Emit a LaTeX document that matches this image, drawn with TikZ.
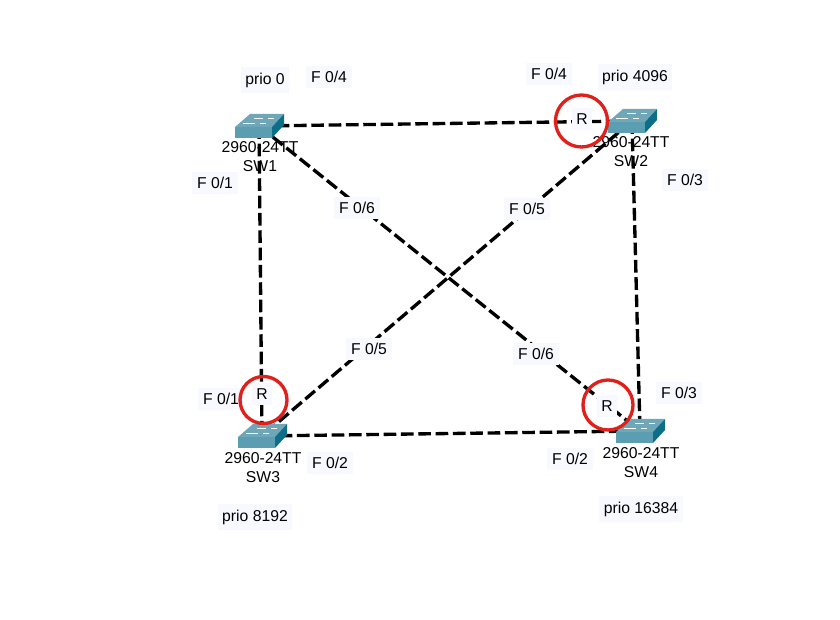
\documentclass[tikz,border=0pt]{standalone}
\usepackage{fontspec}
\setmainfont{Liberation Sans}
\definecolor{swtop}{HTML}{6FA6B8}
\definecolor{swfront}{HTML}{5B9DB1}
\definecolor{swside}{HTML}{0F6E87}
\definecolor{labelbg}{HTML}{F8F8FF}
\definecolor{rootred}{HTML}{E0201B}
\tikzset{
  switchicon/.pic={
    \fill[swtop] (-24,1) -- (-9,-12) -- (25,-12) -- (13,1) -- cycle;
    \fill[swfront] (-24,1) rectangle (13,12);
    \fill[swside] (13,1) -- (25,-12) -- (25,-1) -- (13,12) -- cycle;
    \draw[white,line width=0.6pt] (-5,-8) -- (4,-8) (9,-8) -- (15,-8);
    \draw[white,line width=0.6pt] (-16,-3) -- (-4,-3) (1,-3) -- (7,-3);
  }
}
\begin{document}
\begin{tikzpicture}[x=0.75pt,y=-0.75pt,font=\fontsize{11.8}{14}\selectfont,
  swpoint/.style={inner sep=0pt,minimum size=0pt},
  link/.style={line width=2.5pt,dash pattern=on 9.5pt off 3.5pt},
  swname/.style={align=center,inner sep=0pt},
  portlabel/.style={fill=labelbg,inner xsep=3.5pt,inner ysep=4pt},
  rootring/.style={circle,draw=rootred,line width=2.5pt,inner sep=0pt}]
\useasboundingbox (0,0) rectangle (840,620);
\node[swpoint] (sw1) at (259,126) {};
\node[swpoint] (sw2) at (632,121) {};
\node[swpoint] (sw3) at (262,436) {};
\node[swpoint] (sw4) at (640,431) {};
\node[swname] (name1) at (260,156.5) {2960-24TT\\SW1};
\node[swname] (name2) at (631,151.5) {2960-24TT\\SW2};
\node[swname] (name3) at (263,467.5) {2960-24TT\\SW3};
\node[swname] (name4) at (641,462.5) {2960-24TT\\SW4};
\draw[link] (sw1) -- (sw2);
\draw[link] (sw1) -- (sw3);
\draw[link] (sw1) -- (sw4);
\draw[link] (sw2) -- (sw3);
\draw[link] (sw2) -- (sw4);
\draw[link] (sw3) -- (sw4);
\pic at (sw1) {switchicon};
\pic at (sw2) {switchicon};
\pic at (sw3) {switchicon};
\pic at (sw4) {switchicon};
\node[portlabel] (prio1) at (265,80) {prio 0};
\node[portlabel] (prio2) at (635,77) {prio 4096};
\node[portlabel] (prio3) at (255,517) {prio 8192};
\node[portlabel] (prio4) at (641,509) {prio 16384};
\node[portlabel] (p14) at (329,77) {F 0/4};
\node[portlabel] (p24) at (549,74) {F 0/4};
\node[portlabel] (p11) at (215,183) {F 0/1};
\node[portlabel] (p23) at (685,180) {F 0/3};
\node[portlabel] (p16) at (357,208) {F 0/6};
\node[portlabel] (p25) at (527,209) {F 0/5};
\node[portlabel] (p35) at (369,349) {F 0/5};
\node[portlabel] (p46) at (536,354) {F 0/6};
\node[portlabel] (p31) at (221,399) {F 0/1};
\node[portlabel] (p43) at (679,393) {F 0/3};
\node[portlabel] (p32) at (330,463) {F 0/2};
\node[portlabel] (p42) at (570,459) {F 0/2};
\node[portlabel] (r2) at (582,119) {R};
\node[portlabel] (r3) at (262,394) {R};
\node[portlabel] (r4) at (607,406) {R};
\node[rootring,minimum size=52*0.75pt] (ring2) at (581.5,121) {};
\node[rootring,minimum size=47*0.75pt] (ring3) at (263.5,400) {};
\node[rootring,minimum size=50*0.75pt] (ring4) at (608,405) {};
\end{tikzpicture}
\end{document}
